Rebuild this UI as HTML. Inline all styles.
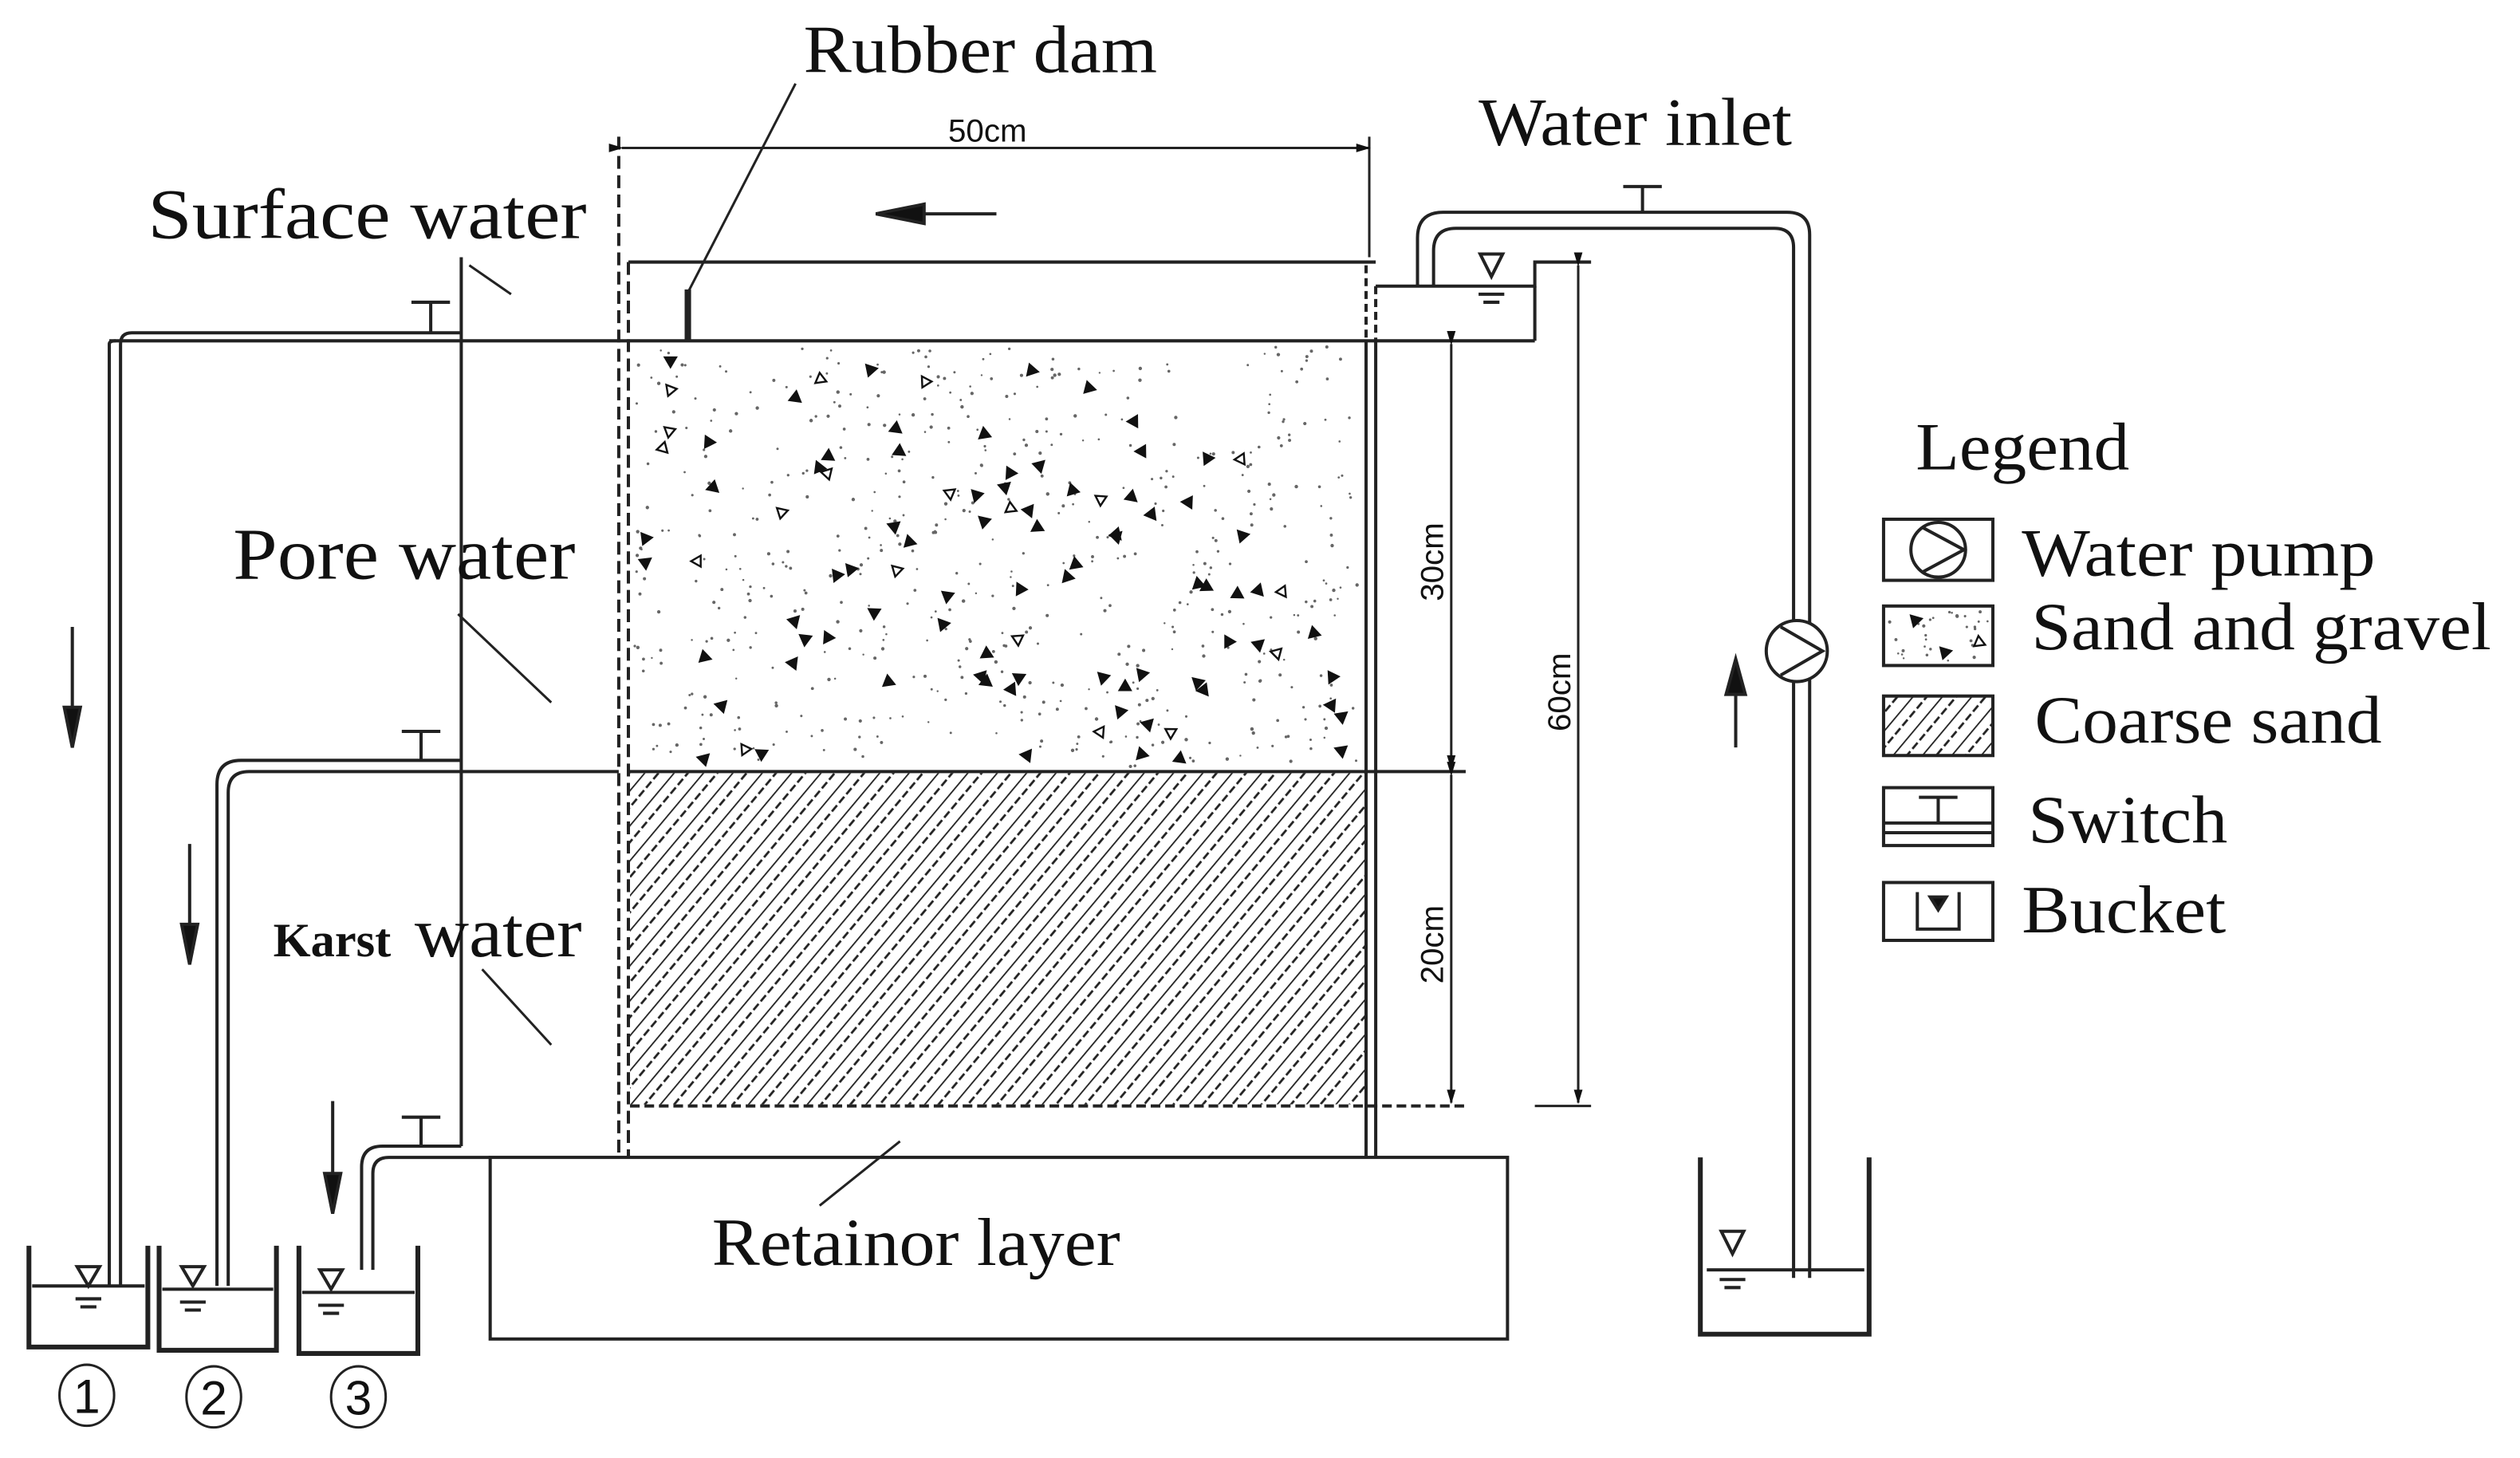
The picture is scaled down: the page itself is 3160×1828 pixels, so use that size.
<!DOCTYPE html>
<html><head><meta charset="utf-8"><style>
html,body{margin:0;padding:0;background:#fff;}
svg{display:block;}
text{font-family:"Liberation Serif",serif;fill:#111;}
.s{font-family:"Liberation Sans",sans-serif;}
</style></head><body>
<svg id="sv" width="3160" height="1828" viewBox="0 0 1568 907" xmlns="http://www.w3.org/2000/svg">
<defs>
<marker id="ah" viewBox="0 0 10 10" refX="9" refY="5" markerWidth="6" markerHeight="6" orient="auto"><path d="M0,2 L10,5 L0,8 z" fill="#111"/></marker>
<pattern id="hatch" width="14" height="14" patternUnits="userSpaceOnUse" patternTransform="rotate(40)">
<line x1="0" y1="0" x2="0" y2="14" stroke="#222" stroke-width="1.8"/>
<line x1="7" y1="0" x2="7" y2="14" stroke="#222" stroke-width="1.4" stroke-dasharray="5,2"/>
</pattern>
</defs>
<g stroke="#222" stroke-width="2" fill="none">
<rect x="305" y="720" width="633" height="113"/>
<rect x="392" y="481" width="458" height="206" fill="url(#hatch)" stroke="none"/>
<line x1="392" y1="480" x2="912" y2="480"/>
<line x1="392" y1="688" x2="912" y2="688" stroke-dasharray="6,3"/>
<line x1="385" y1="85" x2="385" y2="720" stroke-dasharray="8,4"/>
<line x1="391" y1="163" x2="391" y2="720" stroke-dasharray="8,4"/>
<line x1="852" y1="85" x2="852" y2="160" stroke-width="1.5"/>
<line x1="850" y1="212" x2="850" y2="720"/>
<line x1="856" y1="212" x2="856" y2="720"/>
<line x1="850" y1="165" x2="850" y2="212" stroke-dasharray="5,3"/>
<line x1="856" y1="178" x2="856" y2="212" stroke-dasharray="5,3"/>
<line x1="391" y1="163" x2="856" y2="163"/>
<line x1="68" y1="212" x2="955" y2="212"/>
<polyline points="856,178 955,178 955,163 990,163"/>
<line x1="955" y1="178" x2="955" y2="212"/>
<path d="M921,158 L935,158 L928,172 Z"/>
<line x1="920" y1="183" x2="936" y2="183"/><line x1="923" y1="188" x2="933" y2="188"/>
<line x1="387" y1="92" x2="852" y2="92" stroke-width="1.5" marker-end="url(#ah)" marker-start="url(#ah)"/>
<line x1="620" y1="133" x2="560" y2="133"/>
<path d="M545,133 L575,127 L575,139 Z" fill="#111"/>
<line x1="428" y1="180" x2="428" y2="212" stroke-width="4"/>
<line x1="428" y1="182" x2="495" y2="52" stroke-width="1.5"/>
<line x1="903" y1="214" x2="903" y2="478" stroke-width="1.5" marker-end="url(#ah)" marker-start="url(#ah)"/>
<line x1="903" y1="482" x2="903" y2="686" stroke-width="1.5" marker-end="url(#ah)" marker-start="url(#ah)"/>
<line x1="982" y1="165" x2="982" y2="686" stroke-width="1.5" marker-end="url(#ah)" marker-start="url(#ah)"/>
<line x1="955" y1="688" x2="990" y2="688" stroke-width="1.5"/>
<path d="M882,178 L882,148 Q882,132 898,132 L1112,132 Q1126,132 1126,146 L1126,795"/>
<path d="M892,178 L892,156 Q892,142 906,142 L1104,142 Q1116,142 1116,154 L1116,795"/>
<line x1="1022" y1="132" x2="1022" y2="116"/><line x1="1010" y1="116" x2="1034" y2="116"/>
<circle cx="1118" cy="405" r="19" fill="#fff"/>
<path d="M1108,390 L1134,405 L1108,420" />
<line x1="1080" y1="465" x2="1080" y2="425"/>
<path d="M1080,410 L1074,432 L1086,432 Z" fill="#111"/>
<path d="M1058,720 L1058,830 L1163,830 L1163,720" stroke-width="3"/>
<line x1="1062" y1="790" x2="1160" y2="790"/>
<path d="M1071,766 L1085,766 L1078,780 Z"/>
<line x1="1070" y1="796" x2="1086" y2="796"/><line x1="1073" y1="801" x2="1083" y2="801"/>
<line x1="287" y1="160" x2="287" y2="713"/>
<path d="M287,207 L82,207 Q75,207 75,214 L75,800"/>
<path d="M68,800 L68,214 Q68,212 72,212"/>
<line x1="268" y1="207" x2="268" y2="188"/><line x1="256" y1="188" x2="280" y2="188"/>
<path d="M287,473 L150,473 Q135,473 135,488 L135,800"/>
<path d="M385,480 L155,480 Q142,480 142,493 L142,800"/>
<line x1="262" y1="473" x2="262" y2="455"/><line x1="250" y1="455" x2="274" y2="455"/>
<path d="M287,713 L238,713 Q225,713 225,726 L225,790"/>
<path d="M305,720 L242,720 Q232,720 232,730 L232,790"/>
<line x1="262" y1="713" x2="262" y2="695"/><line x1="250" y1="695" x2="274" y2="695"/>
<line x1="45" y1="390" x2="45" y2="445"/><path d="M45,465 L40,440 L50,440 Z" fill="#111"/>
<line x1="118" y1="525" x2="118" y2="580"/><path d="M118,600 L113,575 L123,575 Z" fill="#111"/>
<line x1="207" y1="685" x2="207" y2="735"/><path d="M207,755 L202,730 L212,730 Z" fill="#111"/>
<path d="M18,775 L18,838 L92,838 L92,775" stroke-width="3"/>
<path d="M99,775 L99,840 L172,840 L172,775" stroke-width="3"/>
<path d="M186,775 L186,842 L260,842 L260,775" stroke-width="3"/>
<line x1="20" y1="800" x2="90" y2="800"/><line x1="101" y1="802" x2="170" y2="802"/><line x1="188" y1="804" x2="258" y2="804"/>
<path d="M48,788 L62,788 L55,800 Z"/><path d="M113,788 L127,788 L120,800 Z"/><path d="M199,790 L213,790 L206,802 Z"/>
<line x1="47" y1="808" x2="63" y2="808"/><line x1="50" y1="813" x2="60" y2="813"/>
<line x1="112" y1="810" x2="128" y2="810"/><line x1="115" y1="815" x2="125" y2="815"/>
<line x1="198" y1="812" x2="214" y2="812"/><line x1="201" y1="817" x2="211" y2="817"/>
<ellipse cx="54" cy="868" rx="17" ry="19" stroke-width="1.5"/>
<ellipse cx="133" cy="869" rx="17" ry="19" stroke-width="1.5"/>
<ellipse cx="223" cy="869" rx="17" ry="19" stroke-width="1.5"/>
<line x1="292" y1="165" x2="318" y2="183" stroke-width="1.5"/>
<line x1="285" y1="382" x2="343" y2="437" stroke-width="1.5"/>
<line x1="300" y1="603" x2="343" y2="650" stroke-width="1.5"/>
<line x1="510" y1="750" x2="560" y2="710" stroke-width="1.5"/>
<rect x="1172" y="323" width="68" height="38"/>
<circle cx="1206" cy="342" r="17"/><path d="M1196,328 L1222,342 L1196,356"/>
<rect x="1172" y="377" width="68" height="37"/>
<rect x="1172" y="433" width="68" height="37" fill="url(#hatch)"/>
<rect x="1172" y="490" width="68" height="36"/>
<line x1="1172" y1="512" x2="1240" y2="512"/><line x1="1172" y1="518" x2="1240" y2="518"/>
<line x1="1206" y1="512" x2="1206" y2="496"/><line x1="1194" y1="496" x2="1218" y2="496"/>
<rect x="1172" y="549" width="68" height="36"/>
<path d="M1193,555 L1193,578 L1219,578 L1219,555"/>
<path d="M1201,558 L1211,558 L1206,566 Z" fill="#111"/>
</g>
<g id="sand"></g>
<g id="lsand"></g>
<text x="500" y="45" font-size="42" textLength="220" lengthAdjust="spacingAndGlyphs">Rubber dam</text>
<text class="s" x="590" y="88" font-size="20">50cm</text>
<text x="920" y="90" font-size="42" textLength="195" lengthAdjust="spacingAndGlyphs">Water inlet</text>
<text x="92" y="148" font-size="44" textLength="273" lengthAdjust="spacingAndGlyphs">Surface water</text>
<text x="145" y="360" font-size="46" textLength="213" lengthAdjust="spacingAndGlyphs">Pore water</text>
<text x="170" y="595" font-size="30" font-weight="bold">Karst</text>
<text x="258" y="595" font-size="44" textLength="104" lengthAdjust="spacingAndGlyphs">water</text>
<text x="443" y="787" font-size="42" textLength="254" lengthAdjust="spacingAndGlyphs">Retainor layer</text>
<text class="s" font-size="20" transform="translate(898,374) rotate(-90)">30cm</text>
<text class="s" font-size="20" transform="translate(898,612) rotate(-90)">20cm</text>
<text class="s" font-size="20" transform="translate(977,455) rotate(-90)">60cm</text>
<text x="1192" y="292" font-size="42" textLength="133" lengthAdjust="spacingAndGlyphs">Legend</text>
<text x="1258" y="358" font-size="42" textLength="220" lengthAdjust="spacingAndGlyphs">Water pump</text>
<text x="1264" y="404" font-size="42" textLength="286" lengthAdjust="spacingAndGlyphs">Sand and gravel</text>
<text x="1266" y="462" font-size="42" textLength="216" lengthAdjust="spacingAndGlyphs">Coarse sand</text>
<text x="1262" y="524" font-size="42" textLength="124" lengthAdjust="spacingAndGlyphs">Switch</text>
<text x="1258" y="580" font-size="42" textLength="127" lengthAdjust="spacingAndGlyphs">Bucket</text>
<text class="s" x="54" y="879" font-size="30" text-anchor="middle">1</text>
<text class="s" x="133" y="880" font-size="30" text-anchor="middle">2</text>
<text class="s" x="223" y="880" font-size="30" text-anchor="middle">3</text>
</svg>
<script>
(function(){
var s=12345;function r(){s=(s*16807)%2147483647;return s/2147483647;}
var ns="http://www.w3.org/2000/svg";
function el(g,tag,attrs){var e=document.createElementNS(ns,tag);for(var k in attrs)e.setAttribute(k,attrs[k]);g.appendChild(e);}
function fill(id,x0,y0,w,h,nd,nt){
 var g=document.getElementById(id);
 for(var i=0;i<nd;i++){el(g,"circle",{cx:(x0+r()*w).toFixed(1),cy:(y0+r()*h).toFixed(1),r:(0.6+r()*0.5).toFixed(2),fill:"#666"});}
 for(var j=0;j<nt;j++){var x=x0+4+r()*(w-8),y=y0+4+r()*(h-8),a=r()*6.28;
  var p=[];for(var k=0;k<3;k++){var b=a+k*2.094;p.push((x+4*Math.cos(b)).toFixed(1)+","+(y+4*Math.sin(b)).toFixed(1));}
  el(g,"polygon",{points:p.join(" "),fill:(r()<0.2?"none":"#111"),stroke:"#111","stroke-width":"1.2"});}
}
fill("sand",395,215,452,262,550,95);
fill("lsand",1175,380,62,31,30,3);
})();
</script>
</body></html>
